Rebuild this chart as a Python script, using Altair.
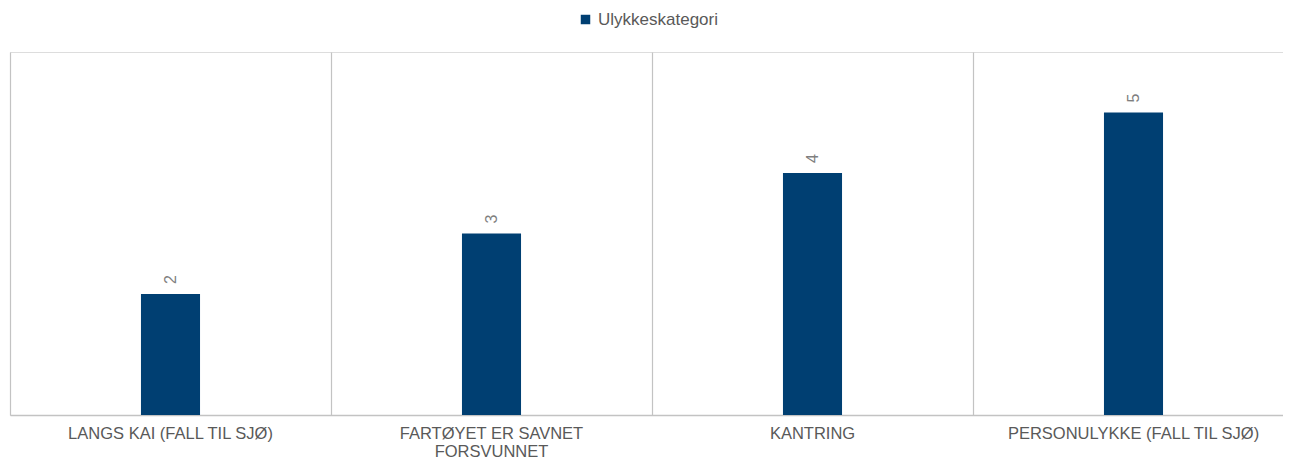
import altair as alt
import pandas as pd

categories = [
    "LANGS KAI (FALL TIL SJØ)",
    "FARTØYET ER SAVNET\nFORSVUNNET",
    "KANTRING",
    "PERSONULYKKE (FALL TIL SJØ)",
]
values = [2, 3, 4, 5]
series_name = "Ulykkeskategori"

df = pd.DataFrame({"kategori": categories, "antall": values, "serie": [series_name] * len(values)})

FONT = "Liberation Sans, Arial, sans-serif"
GRAY = "#595959"
NAVY = "#003f72"

x = alt.X(
    "kategori:N",
    sort=categories,
    title=None,
    scale=alt.Scale(paddingInner=0, paddingOuter=0),
    axis=alt.Axis(
        labelAngle=0,
        labelExpr="split(datum.label, '\\n')",
        labelFont=FONT,
        labelFontSize=16.5,
        labelColor=GRAY,
        labelLineHeight=18,
        labelBaseline="top",
        labelPadding=10,
        labelLimit=0,
        ticks=False,
        grid=True,
        gridColor="#c3c3c3",
        gridWidth=1.2,
        bandPosition=0,
        domainColor="#c3c3c3",
        domainWidth=1.5,
    ),
)
y = alt.Y("antall:Q", scale=alt.Scale(domain=[0, 6], nice=False), axis=None)

bars = alt.Chart(df).mark_bar(width=alt.RelativeBandSize(0.184)).encode(
    x=x,
    y=y,
    color=alt.Color(
        "serie:N",
        scale=alt.Scale(range=[NAVY]),
        legend=alt.Legend(
            title=None,
            orient="none",
            legendX=567,
            legendY=-41,
            symbolType="square",
            symbolSize=90,
            symbolStrokeWidth=0,
            labelFont=FONT,
            labelFontSize=17,
            labelColor=GRAY,
            labelOffset=4,
            padding=0,
        ),
    ),
)

labels = alt.Chart(df).mark_text(
    angle=270, align="left", baseline="middle", dx=10, font=FONT, fontSize=16, color="#7f7f7f"
).encode(x=alt.X("kategori:N", sort=categories), y=y, text="antall:Q")

chart = (
    alt.layer(bars, labels)
    .properties(
        width=1284,
        height=363,
        padding={"left": 2, "top": 44, "right": -11, "bottom": 46},
        autosize=alt.AutoSizeParams(type="none"),
    )
    .configure_view(stroke=None)
    .configure(background="white")
)

chart.save("out.html", embed_options={"renderer": "svg", "actions": False})
